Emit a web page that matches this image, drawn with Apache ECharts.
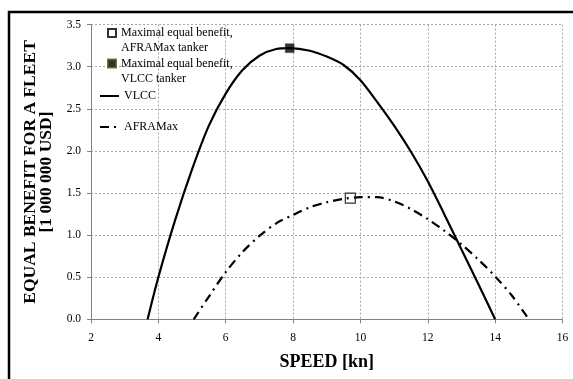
<!DOCTYPE html>
<html>
<head>
<meta charset="utf-8">
<script src="https://cdn.jsdelivr.net/npm/echarts@6/dist/echarts.min.js"></script>
<style>
  html, body { margin: 0; padding: 0; background: #fff; }
  #chart { width: 573px; height: 379px; }
</style>
</head>
<body>
<div id="chart"></div>
<script>
// Equal benefit for a fleet [million USD] against sailing speed [kn]
const speedsVlcc   = [3.68, 4.0, 4.5, 5.0, 5.5, 6.0, 6.5, 7.0, 7.5, 7.9, 8.5, 9.0, 9.5, 10.0, 10.5, 11.0, 11.5, 12.0, 12.5, 13.0, 13.5, 14.0];
const benefitVlcc  = [0, 0.5, 1.18, 1.78, 2.3, 2.68, 2.96, 3.13, 3.21, 3.22, 3.19, 3.12, 3.02, 2.84, 2.58, 2.30, 1.99, 1.64, 1.24, 0.83, 0.42, 0];

const speedsAfra   = [5.05, 5.5, 6.0, 6.5, 7.0, 7.5, 8.0, 8.5, 9.0, 9.5, 10.0, 10.5, 11.0, 11.5, 12.0, 12.5, 13.0, 13.5, 14.0, 14.5, 15.0];
const benefitAfra  = [0, 0.27, 0.56, 0.8, 0.99, 1.14, 1.24, 1.33, 1.39, 1.43, 1.45, 1.45, 1.40, 1.31, 1.19, 1.05, 0.89, 0.71, 0.51, 0.28, 0];

// Maximal equal benefit points [speed, benefit]
const maxAfra = [9.7, 1.44];
const maxVlcc = [7.9, 3.22];

const seriesNames = [
  'Maximal equal benefit,\nAFRAMax tanker',
  'Maximal equal benefit,\nVLCC tanker',
  'VLCC',
  'AFRAMax'
];

const xTicks = { min: 2, max: 16, interval: 2 };
const yTicks = { min: 0, max: 3.5, interval: 0.5 };

const pairs = (xs, ys) => xs.map((x, i) => [x, ys[i]]);

const serif = 'Liberation Serif';
const legendText = { fontFamily: serif, fontSize: 12, color: '#000', lineHeight: 15 };

// Two-line entries: an empty leading line keeps the icon level with the first text line
const twoLineLegend = name => '\n' + name;

const chart = echarts.init(document.getElementById('chart'), null, { renderer: 'canvas' });

chart.setOption({
  animation: false,
  backgroundColor: '#fff',
  graphic: [{
    type: 'rect',
    z: -10,
    shape: { x: 9, y: 12, width: 700, height: 500 },
    style: { fill: 'none', stroke: '#000', lineWidth: 2.5 }
  }],
  grid: { left: 91, right: 10.5, top: 24.6, bottom: 59.7 },
  legend: [
    {
      data: [seriesNames[0]], orient: 'vertical', left: 107, top: 10.5, padding: 0,
      itemWidth: 8, itemHeight: 8, formatter: twoLineLegend,
      textStyle: legendText
    },
    {
      data: [seriesNames[1]], orient: 'vertical', left: 107, top: 41, padding: 0,
      itemWidth: 8, itemHeight: 8, formatter: twoLineLegend,
      textStyle: legendText
    },
    {
      data: [seriesNames[2]], orient: 'vertical', left: 99, top: 88.5, padding: 0,
      itemWidth: 19, itemHeight: 8,
      itemStyle: { opacity: 0 },
      textStyle: legendText
    },
    {
      data: [seriesNames[3]], orient: 'vertical', left: 99, top: 119.5, padding: 0,
      itemWidth: 19, itemHeight: 8,
      itemStyle: { opacity: 0 },
      textStyle: legendText
    }
  ],
  xAxis: {
    type: 'value',
    min: xTicks.min, max: xTicks.max, interval: xTicks.interval,
    name: 'SPEED [kn]',
    nameLocation: 'middle',
    nameGap: 34,
    nameTextStyle: { fontFamily: serif, fontSize: 18, fontWeight: 'bold', color: '#000' },
    axisLine: { show: true, onZero: false, lineStyle: { color: '#808080', width: 1 } },
    axisTick: { show: true, length: 4, lineStyle: { color: '#808080' } },
    axisLabel: { fontFamily: serif, fontSize: 11.5, color: '#000', margin: 13 },
    splitLine: { show: true, lineStyle: { color: '#a8a8a8', type: [2, 2], width: 1 } }
  },
  yAxis: {
    type: 'value',
    min: yTicks.min, max: yTicks.max, interval: yTicks.interval,
    name: 'EQUAL BENEFIT FOR A FLEET\n[1 000 000 USD]',
    nameLocation: 'middle',
    nameRotate: 90,
    nameGap: 27,
    nameTextStyle: { fontFamily: serif, fontSize: 17.5, fontWeight: 'bold', color: '#000', lineHeight: 16 },
    axisLine: { show: true, lineStyle: { color: '#808080', width: 1 } },
    axisTick: { show: true, length: 4, lineStyle: { color: '#808080' } },
    axisLabel: { fontFamily: serif, fontSize: 11.5, color: '#000', margin: 10,
      formatter: v => v.toFixed(1) },
    splitLine: { show: true, lineStyle: { color: '#a8a8a8', type: [2, 2], width: 1 } }
  },
  series: [
    {
      name: seriesNames[0],
      type: 'scatter',
      symbol: 'rect',
      symbolSize: 10,
      z: 3,
      itemStyle: { color: 'rgba(255,255,255,0)', borderColor: '#000', borderWidth: 1.2 },
      data: [maxAfra]
    },
    {
      name: seriesNames[1],
      type: 'scatter',
      symbol: 'rect',
      symbolSize: 9,
      z: 5,
      itemStyle: { color: '#000', borderColor: '#4b5a20', borderWidth: 0.5 },
      data: [maxVlcc]
    },
    {
      name: seriesNames[2],
      type: 'line',
      symbol: 'none',
      showSymbol: false,
      smooth: 0.3,
      z: 4,
      lineStyle: { color: '#000', width: 2.2 },
      itemStyle: { color: '#000' },
      data: pairs(speedsVlcc, benefitVlcc)
    },
    {
      name: seriesNames[3],
      type: 'line',
      symbol: 'none',
      showSymbol: false,
      smooth: 0.3,
      z: 4,
      lineStyle: { color: '#000', width: 2.2, type: [9, 5, 2, 5], cap: 'butt' },
      itemStyle: { color: '#000' },
      data: pairs(speedsAfra, benefitAfra)
    }
  ]
});
</script>
</body>
</html>
